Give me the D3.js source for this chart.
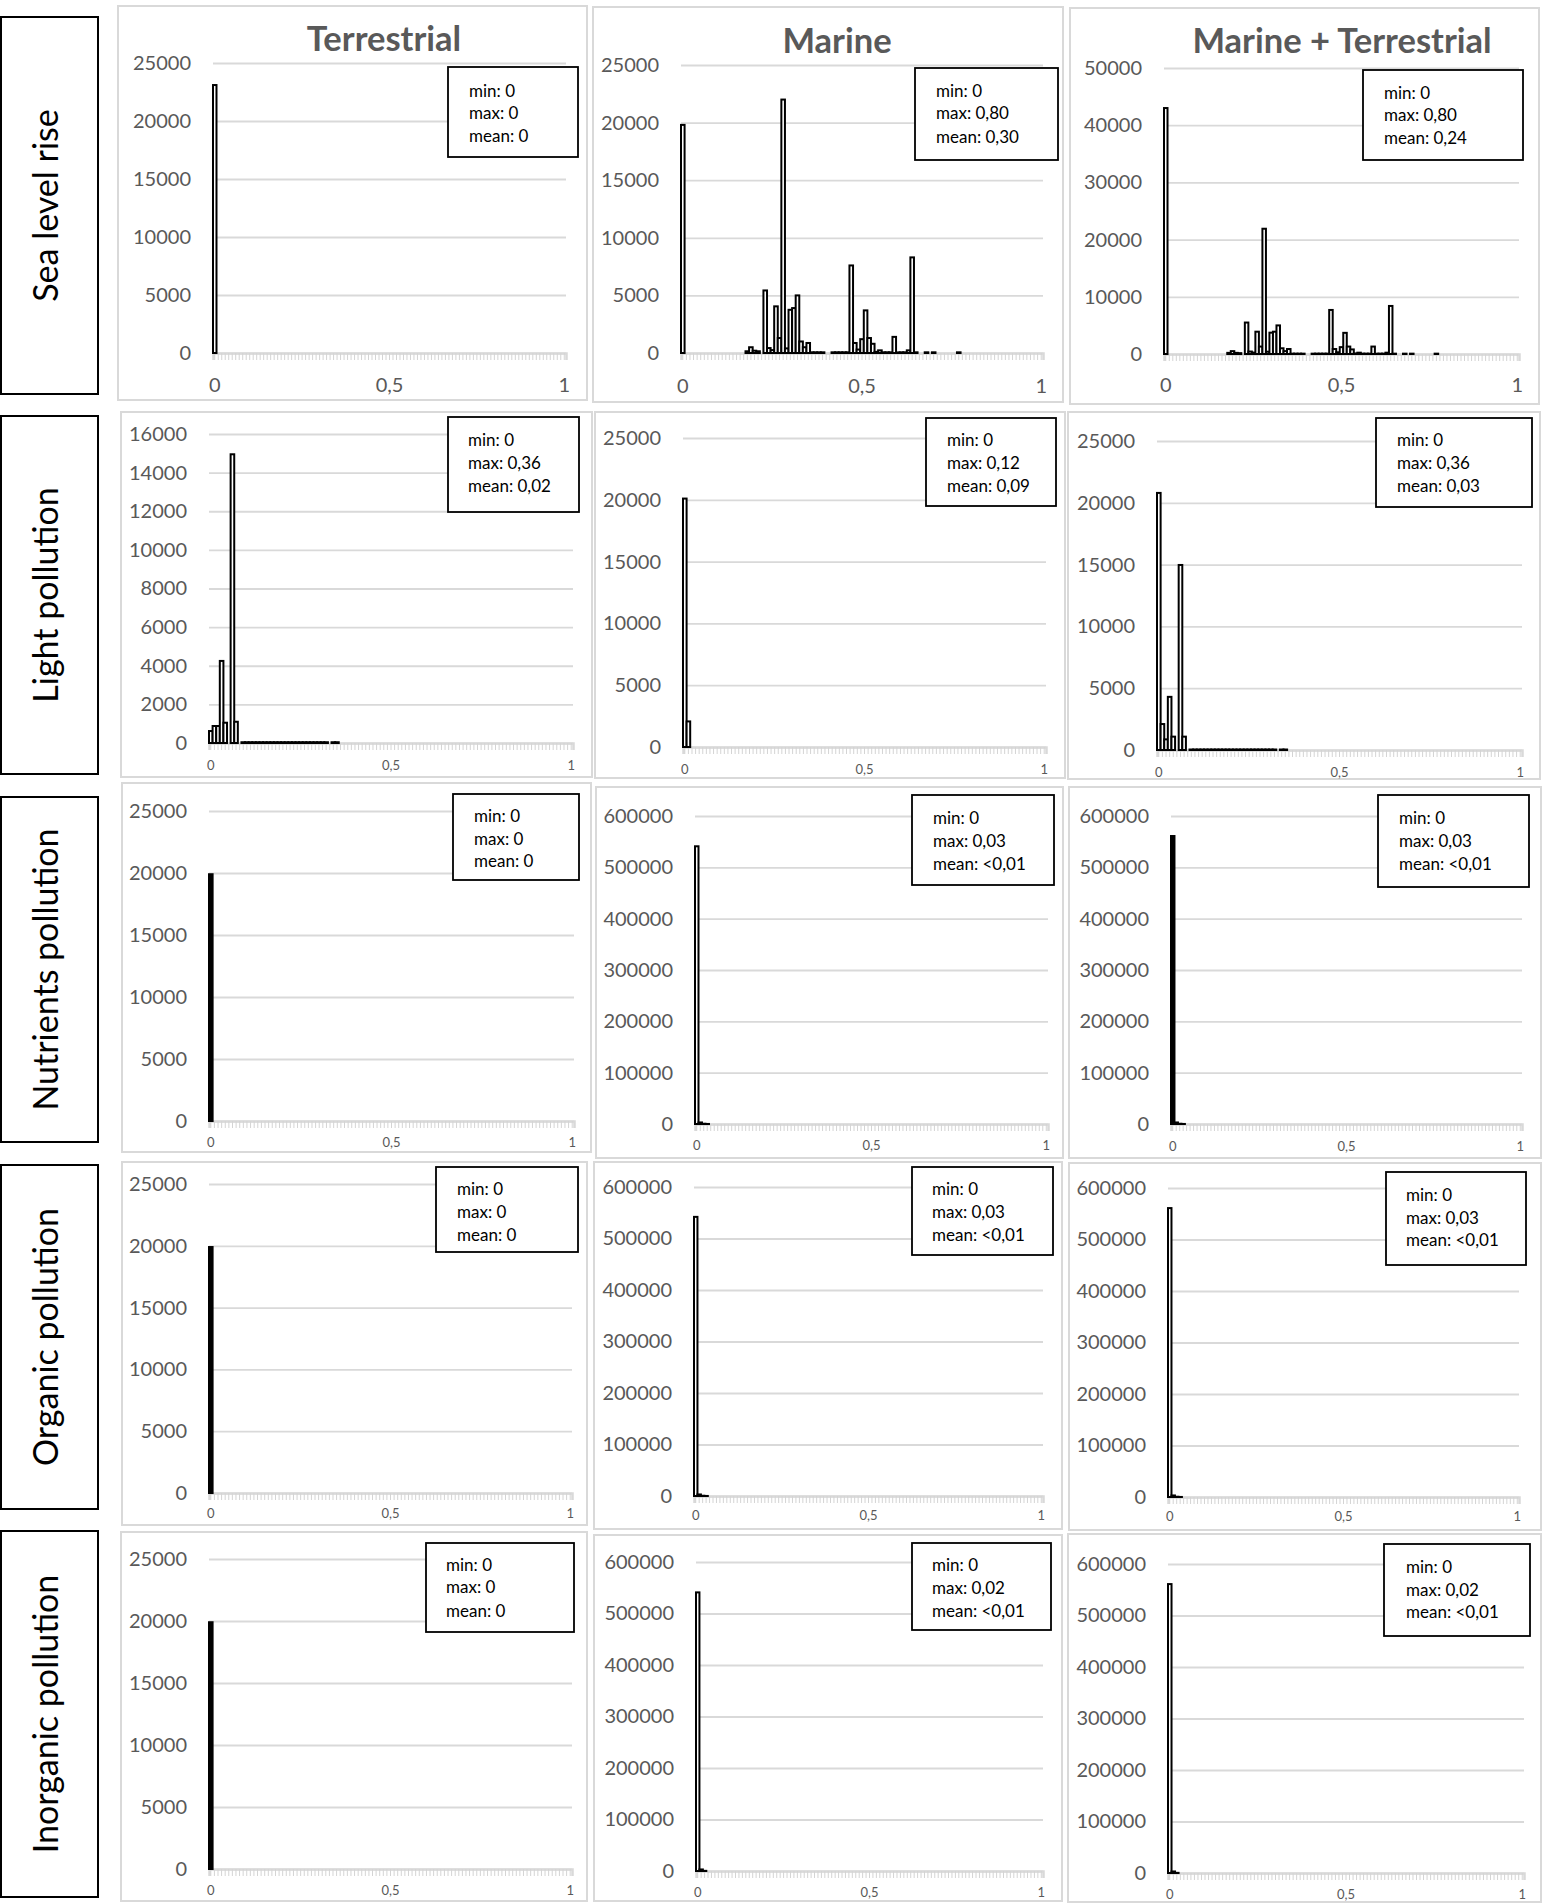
<!DOCTYPE html>
<html>
<head>
<meta charset="utf-8">
<script src="https://cdn.jsdelivr.net/npm/d3@7"></script>
<style>
  html, body { margin: 0; padding: 0; background: #fff; }
  svg { display: block; font-family: Lato, "Open Sans", sans-serif; }
</style>
</head>
<body>
<svg id="chart" width="1553" height="1903"></svg>
<script>
// ---------- categories and labels ----------
const rowNames = ["Sea level rise", "Light pollution", "Nutrients pollution", "Organic pollution", "Inorganic pollution"];
const colNames = ["Terrestrial", "Marine", "Marine + Terrestrial"];
// histogram bins: 0.00, 0.01, ... 1.00
const binStarts = d3.range(0, 101).map(i => +(i / 100).toFixed(2));
const xTickValues = [0, 0.5, 1];
const xTickLabels = ["0", "0,5", "1"];

// y-axis extent and step per panel [row][col]
const yMax  = [[25000, 25000, 50000], [16000, 25000, 25000], [25000, 600000, 600000], [25000, 600000, 600000], [25000, 600000, 600000]];
const yStep = [[5000, 5000, 10000], [2000, 5000, 5000], [5000, 100000, 100000], [5000, 100000, 100000], [5000, 100000, 100000]];

// summary statistics per panel [row][col]
const statMin  = [["0", "0", "0"], ["0", "0", "0"], ["0", "0", "0"], ["0", "0", "0"], ["0", "0", "0"]];
const statMax  = [["0", "0,80", "0,80"], ["0,36", "0,12", "0,36"], ["0", "0,03", "0,03"], ["0", "0,03", "0,03"], ["0", "0,02", "0,02"]];
const statMean = [["0", "0,30", "0,24"], ["0,02", "0,09", "0,03"], ["0", "<0,01", "<0,01"], ["0", "<0,01", "<0,01"], ["0", "<0,01", "<0,01"]];

// ---------- counts per bin: [bin, count] ----------
const seaTerrestrial = [[0.00, 23100]];
const seaMarine = [[0.00, 19800], [0.18, 150], [0.19, 500], [0.20, 200], [0.21, 150], [0.23, 5430], [0.24, 430], [0.25, 250],
  [0.26, 4050], [0.27, 1300], [0.28, 22000], [0.29, 400], [0.30, 3750], [0.31, 3900], [0.32, 5000], [0.33, 1000], [0.34, 500],
  [0.35, 870], [0.36, 60], [0.37, 60], [0.38, 60], [0.39, 60], [0.42, 60], [0.43, 60], [0.44, 60], [0.45, 60], [0.46, 60],
  [0.47, 7600], [0.48, 870], [0.49, 300], [0.50, 1200], [0.51, 3700], [0.52, 1300], [0.53, 800], [0.54, 100], [0.55, 230],
  [0.56, 60], [0.57, 60], [0.58, 60], [0.59, 1400], [0.60, 50], [0.61, 60], [0.62, 60], [0.63, 230], [0.64, 8300], [0.65, 60],
  [0.68, 60], [0.70, 60], [0.77, 60]];
const seaBoth = [[0.00, 43000], [0.18, 200], [0.19, 500], [0.20, 200], [0.21, 150], [0.23, 5500], [0.24, 430], [0.25, 250],
  [0.26, 3900], [0.27, 1300], [0.28, 21900], [0.29, 400], [0.30, 3730], [0.31, 3900], [0.32, 5000], [0.33, 1000], [0.34, 500],
  [0.35, 870], [0.36, 60], [0.37, 60], [0.38, 60], [0.39, 60], [0.42, 60], [0.43, 60], [0.44, 60], [0.45, 60], [0.46, 60],
  [0.47, 7700], [0.48, 870], [0.49, 300], [0.50, 1200], [0.51, 3700], [0.52, 1300], [0.53, 800], [0.54, 100], [0.55, 230],
  [0.56, 60], [0.57, 60], [0.58, 60], [0.59, 1300], [0.60, 50], [0.61, 60], [0.62, 60], [0.63, 230], [0.64, 8400], [0.65, 60],
  [0.68, 60], [0.70, 60], [0.77, 60]];

const lightTerrestrial = [[0.00, 620], [0.01, 880], [0.02, 880], [0.03, 4250], [0.04, 1050], [0.06, 14950], [0.07, 1100],
  [0.09, 40], [0.10, 40], [0.11, 40], [0.12, 40], [0.13, 40], [0.14, 40], [0.15, 40], [0.16, 40], [0.17, 40], [0.18, 40],
  [0.19, 40], [0.20, 40], [0.21, 40], [0.22, 40], [0.23, 40], [0.24, 40], [0.25, 40], [0.26, 40], [0.27, 40], [0.28, 40],
  [0.29, 40], [0.30, 40], [0.31, 40], [0.32, 40], [0.34, 40], [0.35, 40]];
const lightMarine = [[0.00, 20100], [0.01, 2070]];
const lightBoth = [[0.00, 20800], [0.01, 2100], [0.02, 860], [0.03, 4300], [0.04, 1080], [0.06, 14970], [0.07, 1080],
  [0.09, 40], [0.10, 40], [0.11, 40], [0.12, 40], [0.13, 40], [0.14, 40], [0.15, 40], [0.16, 40], [0.17, 40], [0.18, 40],
  [0.19, 40], [0.20, 40], [0.21, 40], [0.22, 40], [0.23, 40], [0.24, 40], [0.25, 40], [0.26, 40], [0.27, 40], [0.28, 40],
  [0.29, 40], [0.30, 40], [0.31, 40], [0.32, 40], [0.34, 40], [0.35, 40]];

const nutrientsTerrestrial = [[0.00, 19900]];
const nutrientsMarine = [[0.00, 541000], [0.01, 3000], [0.02, 500], [0.03, 100]];
const nutrientsBoth = [[0.00, 561000], [0.01, 3000], [0.02, 500], [0.03, 100]];

const organicTerrestrial = [[0.00, 19900]];
const organicMarine = [[0.00, 542000], [0.01, 3000], [0.02, 500], [0.03, 100]];
const organicBoth = [[0.00, 561000], [0.01, 3000], [0.02, 500], [0.03, 100]];

const inorganicTerrestrial = [[0.00, 19900]];
const inorganicMarine = [[0.00, 541000], [0.01, 3000], [0.02, 300]];
const inorganicBoth = [[0.00, 561000], [0.01, 3000], [0.02, 300]];

const series = [
  [seaTerrestrial, seaMarine, seaBoth],
  [lightTerrestrial, lightMarine, lightBoth],
  [nutrientsTerrestrial, nutrientsMarine, nutrientsBoth],
  [organicTerrestrial, organicMarine, organicBoth],
  [inorganicTerrestrial, inorganicMarine, inorganicBoth]
];

// ---------- layout ----------
// box: panel frame, gx: plot x range, gy: [top tick, zero], xl: x label centre line,
// st: stats box, tx: stats text x, tb: stats text baselines, solid: filled bars
const layout = [
  [
    {box: [118, 6, 587, 400], gx: [213, 566], gy: [63, 353], xl: 385, st: [448, 67, 578, 157], tx: 469, tb: [97, 119, 142], big: true},
    {box: [593, 7, 1063, 402], gx: [681, 1043], gy: [65, 353], xl: 386, st: [915, 68, 1058, 160], tx: 936, tb: [97, 119, 143], big: true},
    {box: [1070, 8, 1539, 404], gx: [1164, 1519], gy: [68, 354], xl: 385, st: [1363, 70, 1523, 160], tx: 1384, tb: [99, 121, 144], big: true}
  ],
  [
    {box: [121, 412, 592, 777], gx: [209, 573], gy: [434, 743], xl: 765, st: [448, 417, 579, 512], tx: 468, tb: [446, 469, 492]},
    {box: [595, 412, 1065, 778], gx: [683, 1046], gy: [438, 747], xl: 769, st: [926, 418, 1056, 506], tx: 947, tb: [446, 469, 492]},
    {box: [1068, 412, 1540, 779], gx: [1157, 1522], gy: [441, 750], xl: 772, st: [1376, 418, 1532, 507], tx: 1397, tb: [446, 469, 492]}
  ],
  [
    {box: [122, 783, 591, 1152], gx: [209, 574], gy: [811, 1121], xl: 1142, st: [453, 794, 579, 880], tx: 474, tb: [822, 845, 867], solid: true},
    {box: [596, 787, 1063, 1158], gx: [695, 1048], gy: [816, 1124], xl: 1145, st: [912, 795, 1054, 885], tx: 933, tb: [824, 847, 870]},
    {box: [1069, 787, 1541, 1158], gx: [1171, 1522], gy: [816, 1124], xl: 1146, st: [1378, 795, 1529, 887], tx: 1399, tb: [824, 847, 870], solid: true}
  ],
  [
    {box: [122, 1162, 587, 1525], gx: [209, 572], gy: [1184, 1493], xl: 1513, st: [436, 1167, 578, 1252], tx: 457, tb: [1195, 1218, 1241], solid: true},
    {box: [594, 1162, 1062, 1529], gx: [694, 1043], gy: [1187, 1496], xl: 1515, st: [912, 1167, 1053, 1255], tx: 932, tb: [1195, 1218, 1241]},
    {box: [1069, 1163, 1541, 1530], gx: [1168, 1519], gy: [1188, 1497], xl: 1516, st: [1386, 1172, 1526, 1265], tx: 1406, tb: [1201, 1224, 1246]}
  ],
  [
    {box: [121, 1532, 587, 1901], gx: [209, 572], gy: [1559, 1869], xl: 1890, st: [426, 1543, 574, 1632], tx: 446, tb: [1571, 1593, 1617], solid: true},
    {box: [594, 1535, 1062, 1901], gx: [696, 1043], gy: [1562, 1871], xl: 1892, st: [912, 1543, 1051, 1630], tx: 932, tb: [1571, 1594, 1617]},
    {box: [1068, 1534, 1541, 1902], gx: [1168, 1524], gy: [1564, 1873], xl: 1894, st: [1384, 1544, 1530, 1636], tx: 1406, tb: [1573, 1596, 1618]}
  ]
];
const rowBoxes = [[17, 394], [416, 774], [797, 1142], [1165, 1509], [1531, 1897]];
const titlePos = [[384, 51], [837, 53], [1342, 53]];

const GRID = "#d9d9d9", LABEL = "#595959";
const svg = d3.select("#chart");

// ---------- row labels ----------
rowNames.forEach((name, r) => {
  const [y0, y1] = rowBoxes[r];
  svg.append("rect").attr("x", 1).attr("y", y0).attr("width", 97).attr("height", y1 - y0)
    .attr("fill", "#fff").attr("stroke", "#000").attr("stroke-width", 2);
  svg.append("text")
    .attr("transform", `translate(58,${(y0 + y1) / 2}) rotate(-90)`)
    .attr("text-anchor", "middle")
    .attr("font-size", 34).attr("fill", "#000")
    .text(name);
});

// ---------- panels ----------
layout.forEach((row, r) => row.forEach((L, c) => {
  const g = svg.append("g");
  const [bx0, by0, bx1, by1] = L.box;
  g.append("rect").attr("x", bx0).attr("y", by0).attr("width", bx1 - bx0).attr("height", by1 - by0)
    .attr("fill", "#fff").attr("stroke", GRID).attr("stroke-width", 2);

  const x = d3.scaleBand().domain(binStarts).range(L.gx).paddingInner(0).paddingOuter(0);
  const y = d3.scaleLinear().domain([0, yMax[r][c]]).range([L.gy[1], L.gy[0]]);
  const bw = x.bandwidth();

  // horizontal gridlines with value labels
  const yAxis = d3.axisLeft(y)
    .tickValues(d3.range(0, yMax[r][c] + 1, yStep[r][c]))
    .tickSize(-(L.gx[1] - L.gx[0]))
    .tickPadding(22)
    .tickFormat(d3.format("d"));
  const ya = g.append("g").attr("transform", `translate(${L.gx[0]},0)`).call(yAxis);
  ya.select(".domain").remove();
  ya.selectAll("line").attr("stroke", GRID).attr("stroke-width", 1.8);
  ya.selectAll("text").attr("fill", LABEL).attr("font-size", 20).attr("font-family", "Lato, sans-serif");

  // category axis: one small tick per bin
  const xAxis = d3.axisBottom(x).tickValues(binStarts).tickSize(7).tickFormat("");
  const xa = g.append("g").attr("transform", `translate(0,${L.gy[1]})`).call(xAxis);
  xa.select(".domain").attr("stroke", GRID).attr("stroke-width", 2.5);
  xa.selectAll("line").attr("stroke", "#d4d4d4").attr("stroke-width", 1);

  // x labels at 0, 0,5 and 1
  xTickValues.forEach((v, i) => {
    g.append("text")
      .attr("x", x(+v.toFixed(2)) + bw / 2)
      .attr("y", L.xl)
      .attr("dy", "0.35em")
      .attr("text-anchor", "middle")
      .attr("fill", LABEL)
      .attr("font-size", L.big ? 20 : 13)
      .text(xTickLabels[i]);
  });

  // histogram bars
  g.append("g").selectAll("rect")
    .data(series[r][c])
    .join("rect")
    .attr("x", d => x(d[0]))
    .attr("y", d => y(d[1]))
    .attr("width", bw)
    .attr("height", d => y(0) - y(d[1]))
    .attr("fill", L.solid ? "#000" : "#fff")
    .attr("stroke", "#000")
    .attr("stroke-width", 2);

  // statistics box
  const [sx0, sy0, sx1, sy1] = L.st;
  g.append("rect").attr("x", sx0).attr("y", sy0).attr("width", sx1 - sx0).attr("height", sy1 - sy0)
    .attr("fill", "#fff").attr("stroke", "#000").attr("stroke-width", 1.8);
  const lines = [`min: ${statMin[r][c]}`, `max: ${statMax[r][c]}`, `mean: ${statMean[r][c]}`];
  lines.forEach((t, i) => {
    g.append("text").attr("x", L.tx).attr("y", L.tb[i])
      .attr("font-size", 17).attr("fill", "#000").text(t);
  });
}));

// ---------- column titles ----------
colNames.forEach((name, c) => {
  svg.append("text")
    .attr("x", titlePos[c][0]).attr("y", titlePos[c][1])
    .attr("text-anchor", "middle")
    .attr("font-size", 34.5).attr("font-weight", 700).attr("fill", LABEL)
    .text(name);
});
</script>
</body>
</html>
